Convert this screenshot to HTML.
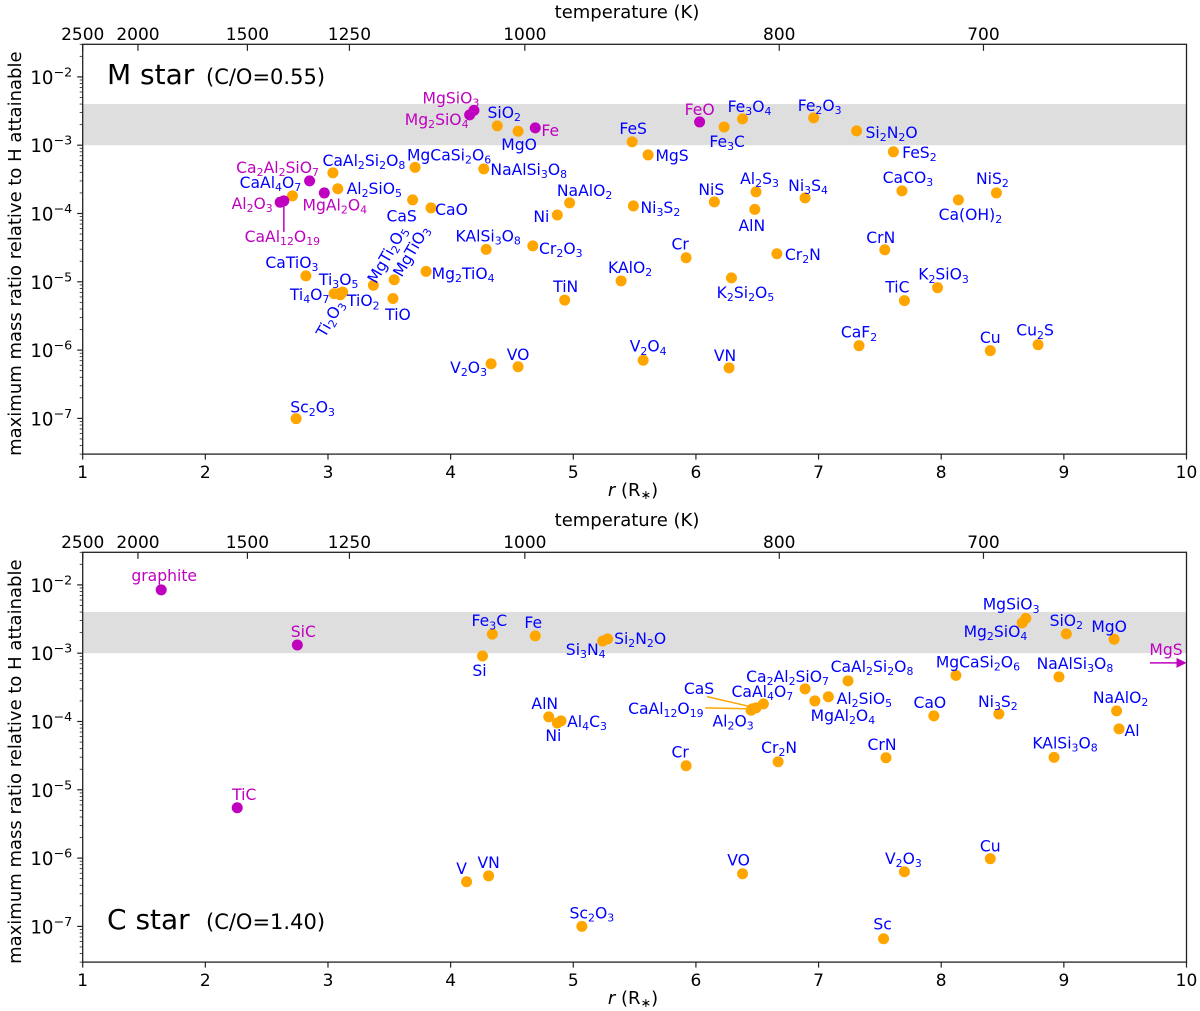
<!DOCTYPE html>
<html lang="en">
<head>
<meta charset="utf-8">
<title>Maximum mass ratio relative to H attainable</title>
<style>
html,body{margin:0;padding:0;background:#fff;width:1200px;height:1011px;overflow:hidden}
svg{display:block}
text{font-family:"DejaVu Sans","Liberation Sans",sans-serif}
</style>
</head>
<body>
<svg id="chart" xmlns="http://www.w3.org/2000/svg" width="1200" height="1011" viewBox="0 0 1200 1011"></svg>
<script>
const xTicks = [1,2,3,4,5,6,7,8,9,10];
const tempTicks = [2500,2000,1500,1250,1000,800,700];
const yTicks = [1e-2,1e-3,1e-4,1e-5,1e-6,1e-7];
const bandRange = [1e-3,4e-3];

const mSpecies = ["SiO2","MgO","FeS","MgS","Fe3O4","Fe3C","Fe2O3","Si2N2O","FeS2","CaAl2Si2O8","MgCaSi2O6","NaAlSi3O8","Al2SiO5","CaAl4O7","CaS","CaO","NaAlO2","Ni","Ni3S2","NiS","Al2S3","AlN","Ni3S4","CaCO3","Ca(OH)2","NiS2","KAlSi3O8","Cr2O3","Cr","CrN","Cr2N","CaTiO3","Ti3O5","Ti4O7","Ti2O3","TiO2","MgTi2O5","MgTiO3","Mg2TiO4","TiO","KAlO2","K2Si2O5","TiN","K2SiO3","TiC","CaF2","Cu","Cu2S","V2O3","VO","V2O4","VN","Sc2O3","MgSiO3","Mg2SiO4","Fe","FeO","Ca2Al2SiO7","MgAl2O4","Al2O3","CaAl12O19"];
const mRadius = [4.38,4.55,5.48,5.61,6.38,6.23,6.96,7.31,7.61,3.04,3.71,4.27,3.08,2.71,3.69,3.84,4.97,4.87,5.49,6.15,6.49,6.48,6.89,7.68,8.14,8.45,4.29,4.67,5.92,7.54,6.66,2.82,3.12,3.05,3.10,3.10,3.37,3.54,3.80,3.53,5.39,6.29,4.93,7.97,7.70,7.33,8.40,8.79,4.33,4.55,5.57,6.27,2.74,4.19,4.155,4.69,6.03,2.85,2.97,2.61,2.64];
const mValue = [1.92e-3,1.6e-3,1.12e-3,7.2e-4,2.43e-3,1.85e-3,2.51e-3,1.62e-3,8e-4,3.94e-4,4.74e-4,4.5e-4,2.3e-4,1.81e-4,1.58e-4,1.21e-4,1.43e-4,9.5e-5,1.29e-4,1.48e-4,2.07e-4,1.15e-4,1.69e-4,2.14e-4,1.58e-4,2e-4,2.98e-5,3.36e-5,2.25e-5,2.94e-5,2.57e-5,1.22e-5,7.06e-6,6.7e-6,6.46e-6,6.8e-6,8.9e-6,1.07e-5,1.42e-5,5.7e-6,1.03e-5,1.14e-5,5.4e-6,8.2e-6,5.3e-6,1.16e-6,9.8e-7,1.2e-6,6.3e-7,5.7e-7,7.1e-7,5.5e-7,9.9e-8,3.23e-3,2.78e-3,1.79e-3,2.19e-3,3e-4,2e-4,1.46e-4,1.53e-4];
const mMagenta = ["MgSiO3","Mg2SiO4","Fe","FeO","Ca2Al2SiO7","MgAl2O4","Al2O3","CaAl12O19"];

const cSpecies = ["Fe3C","Fe","Si","Si3N4","Si2N2O","AlN","Ni","Al4C3","Cr","VO","V","VN","Sc2O3","Sc","V2O3","Cu","Cr2N","CrN","Ca2Al2SiO7","MgAl2O4","Al2SiO5","CaAl2Si2O8","CaAl4O7","CaS","CaAl12O19","Al2O3","MgCaSi2O6","CaO","Ni3S2","NaAlSi3O8","MgSiO3","Mg2SiO4","SiO2","MgO","NaAlO2","Al","KAlSi3O8","graphite","SiC","TiC"];
const cRadius = [4.34,4.69,4.26,5.24,5.28,4.80,4.87,4.90,5.92,6.38,4.13,4.31,5.07,7.53,7.70,8.40,6.67,7.55,6.89,6.97,7.08,7.24,6.55,6.49,6.46,6.45,8.12,7.94,8.47,8.96,8.69,8.66,9.02,9.41,9.43,9.45,8.92,1.64,2.75,2.26];
const cValue = [1.9e-3,1.79e-3,9.1e-4,1.51e-3,1.62e-3,1.17e-4,9.5e-5,1.02e-4,2.25e-5,5.9e-7,4.5e-7,5.5e-7,1e-7,6.6e-8,6.3e-7,9.8e-7,2.57e-5,2.94e-5,3e-4,2e-4,2.3e-4,3.94e-4,1.81e-4,1.58e-4,1.53e-4,1.46e-4,4.74e-4,1.21e-4,1.29e-4,4.5e-4,3.23e-3,2.78e-3,1.92e-3,1.6e-3,1.43e-4,7.8e-5,2.98e-5,8.45e-3,1.32e-3,5.45e-6];
const cMagenta = ["graphite","SiC","TiC"];
const cOffscale = {species:"MgS", value:7.2e-4};

/* label placement relative to each point (layout only, not data) */
const mLabelLayout = {"MgSiO3":[-23,-7],"Mg2SiO4":[-33,10],"Fe":[15,8],"FeO":[0,-7],"Ca2Al2SiO7":[-32,-8],"CaAl4O7":[-22,-8],"Al2O3":[-28,6.5],"CaAl12O19":[-1.5,41],"MgAl2O4":[10.5,17.7],"CaAl2Si2O8":[31,-7],"Al2SiO5":[36.5,5],"MgCaSi2O6":[34,-7],"NaAlSi3O8":[45,6],"CaS":[-11,21.7],"CaO":[20.5,7],"KAlSi3O8":[2,-8],"Cr2O3":[28,8],"CaTiO3":[-14,-8],"Ti3O5":[-4,-7],"Ti4O7":[-24.5,6.3],"TiO2":[23,13],"Ti2O3":[-5.5,26.5,-60],"MgTi2O5":[18.5,-28,-60],"MgTiO3":[21.5,-26,-60],"Mg2TiO4":[37,7.5],"TiO":[5,21.5],"Sc2O3":[16.5,-6],"V2O3":[-22.5,9],"VO":[0,-7],"V2O4":[5,-8.5],"VN":[-4,-7],"CaF2":[0,-8],"Cu":[0,-7.5],"Cu2S":[-3,-9],"TiC":[-7,-8],"K2SiO3":[6,-8],"K2Si2O5":[14,20],"KAlO2":[9,-8],"TiN":[1,-8],"Cr":[-6,-8],"CrN":[-4,-7],"Cr2N":[26,6],"AlN":[-3,21.5],"Al2S3":[3.5,-8],"NiS":[-3,-7],"Ni3S4":[3,-7],"CaCO3":[6,-8],"Ca(OH)2":[12,20],"NiS2":[-4,-9],"NaAlO2":[15,-7],"Ni":[-16,7],"Ni3S2":[27,7],"FeS":[1,-8],"MgS":[24,6],"SiO2":[7,-8],"MgO":[1,19],"Fe3O4":[7,-7],"Fe3C":[3,20],"Fe2O3":[6,-7],"Si2N2O":[35,7],"FeS2":[26,6]};
const cLabelLayout = {"graphite":[3,-9],"SiC":[6,-8],"TiC":[7,-8],"Fe3C":[-3,-8],"Fe":[-2,-8],"Si":[-3,20],"Si3N4":[-17,14],"Si2N2O":[32.5,5],"AlN":[-4,-8],"Ni":[-4,18],"Al4C3":[26,6],"Cr":[-6,-8],"VO":[-4,-8],"V":[-5,-8],"VN":[0,-8],"Sc2O3":[10,-8],"Sc":[-1,-9],"V2O3":[-1,-8],"Cu":[0,-7],"Cr2N":[1,-9],"CrN":[-4,-8],"CaAl4O7":[-1,-7],"CaS":[-57,-14],"CaAl12O19":[-86.5,5],"Al2O3":[-18,16],"Ca2Al2SiO7":[-17.5,-7],"CaAl2Si2O8":[24,-9],"MgAl2O4":[28,20],"Al2SiO5":[36,7],"MgCaSi2O6":[22,-8],"CaO":[-4,-8],"Ni3S2":[-1,-7],"NaAlSi3O8":[16,-8],"MgSiO3":[-14.7,-8.7],"Mg2SiO4":[-26.7,14],"SiO2":[0,-8],"MgO":[-5,-7],"NaAlO2":[4,-8],"Al":[13,7],"KAlSi3O8":[11,-9]};
const mLeaders = [{species:"CaAl12O19",dx:0,dy:31}];
const cLeaders = [{species:"CaS",dx:-49,dy:-11.3},{species:"CaAl12O19",dx:-47,dy:-1}];

const BLUE="#0000ff", ORANGE="#ffa500", MAGENTA="#bf00bf", INK="#222";
const NS="http://www.w3.org/2000/svg";
const svg=document.getElementById("chart");
const L=82.7,R=1186.5;
const X=r=>L+(r-1)*(R-L)/9;
const rOfTemp=t=>Math.pow(2500/t,1/0.6);

function mk(tag,attrs,parent){
  const e=document.createElementNS(NS,tag);
  for(const k in attrs) e.setAttribute(k,attrs[k]);
  parent.appendChild(e);
  return e;
}
function chemText(parent,str,x,y,fill,size,rot){
  const attrs={x:x,y:y,fill:fill,"font-size":size,"text-anchor":"middle"};
  if(rot) attrs.transform="rotate("+rot+" "+x+" "+y+")";
  const t=mk("text",attrs,parent);
  const parts=str.split(/(\d+)/);
  const drop=size*0.2;
  let pending=0;
  parts.forEach((p,i)=>{
    if(!p) return;
    const isSub=i%2===1;
    const a={};
    if(isSub){a["font-size"]=size*0.7;a.dy=drop;pending=-drop;}
    else if(pending){a.dy=pending;pending=0;}
    const s=mk("tspan",a,t);
    s.textContent=p;
  });
  return t;
}

function drawPanel(cfg){
  const top=cfg.top,bottom=top+409.8;
  const Y=v=>top+(Math.log10(3e-2)-Math.log10(v))*409.8/6;
  const g=mk("g",{},svg);
  
  

  const band=mk("rect",{x:L,y:Y(bandRange[1]),width:R-L,height:Y(bandRange[0])-Y(bandRange[1]),fill:"#dedede"},g);
  
  

  /* leader lines */
  cfg.leaders.forEach(ld=>{
    const i=cfg.species.indexOf(ld.species);
    const px=X(cfg.radius[i]),py=Y(cfg.value[i]);
    const col=cfg.magenta.includes(ld.species)?MAGENTA:ORANGE;
    const ln=mk("line",{x1:px,y1:py,x2:px+ld.dx,y2:py+ld.dy,stroke:col,"stroke-width":1.5},g);
    
    
  });

  /* points */
  cfg.species.forEach((s,i)=>{
    if(cfg.magenta.includes(s)) return;
    const c=mk("circle",{cx:X(cfg.radius[i]),cy:Y(cfg.value[i]),r:5.5,fill:ORANGE},g);
    
    
  });
  cfg.species.forEach((s,i)=>{
    if(!cfg.magenta.includes(s)) return;
    const c=mk("circle",{cx:X(cfg.radius[i]),cy:Y(cfg.value[i]),r:5.5,fill:MAGENTA},g);
    
    
  });

  /* labels */
  cfg.species.forEach((s,i)=>{
    const lay=cfg.layout[s]||[0,-8];
    const col=cfg.magenta.includes(s)?MAGENTA:BLUE;
    const t=chemText(g,s,X(cfg.radius[i])+lay[0],Y(cfg.value[i])+lay[1],col,15.6,lay[2]||0);
    
    
  });

  /* off-scale arrow */
  if(cfg.offscale){
    const ay=Y(cfg.offscale.value);
    const arrow=mk("line",{x1:R-36.5,y1:ay,x2:R-9,y2:ay,stroke:MAGENTA,"stroke-width":1.5},g);
    
    
    const head=mk("polygon",{points:(R-10)+","+(ay-5)+" "+R+","+ay+" "+(R-10)+","+(ay+5),fill:MAGENTA},g);
    
    
    const at=chemText(g,cfg.offscale.species,R-20.5,ay-8,MAGENTA,15.6,0);
    
    
  }

  /* y ticks */
  yTicks.forEach(v=>{
    const y=Y(v);
    const tk=mk("line",{x1:L-5.5,x2:L,y1:y,y2:y,stroke:INK,"stroke-width":1.2},g);
    
    
    const lb=mk("text",{x:L-10.5,y:y+7,fill:"#000","font-size":18.2,"text-anchor":"end"},g);
    
    
    const a=mk("tspan",{},lb);
    a.textContent="10";
    const b=mk("tspan",{"font-size":12.7,dy:-7.5},lb);
    b.textContent="\u2212"+Math.round(-Math.log10(v));
  });
  for(let e=-8;e<=-2;e++){
    for(let m=2;m<=9;m++){
      const v=m*Math.pow(10,e);
      if(v<3e-8||v>3e-2) continue;
      const y=Y(v);
      const tk=mk("line",{x1:L-3,x2:L,y1:y,y2:y,stroke:INK,"stroke-width":0.8},g);
      
      
    }
  }

  /* x ticks */
  xTicks.forEach(r=>{
    const x=X(r);
    const tk=mk("line",{x1:x,x2:x,y1:bottom,y2:bottom+5.5,stroke:INK,"stroke-width":1.2},g);
    
    
    const lb=mk("text",{x:x,y:bottom+24,fill:"#000","font-size":17,"text-anchor":"middle"},g);
    
    
    lb.textContent=r;
  });

  /* top temperature ticks */
  tempTicks.forEach(t=>{
    const x=X(rOfTemp(t));
    const tk=mk("line",{x1:x,x2:x,y1:top,y2:top+6.5,stroke:INK,"stroke-width":1.2},g);
    
    
    const lb=mk("text",{x:x,y:top-4.5,fill:"#000","font-size":17,"text-anchor":"middle"},g);
    
    
    lb.textContent=t;
  });

  /* frame */
  const frame=mk("rect",{x:L,y:top,width:R-L,height:409.8,fill:"none",stroke:INK,"stroke-width":1.3},g);
  
  

  /* axis titles */
  const tt=mk("text",{x:627,y:top-26.5,fill:"#000","font-size":18,"text-anchor":"middle"},g);
  
  
  tt.textContent="temperature (K)";

  const xt=mk("text",{x:633,y:bottom+42,fill:"#000","font-size":18,"text-anchor":"middle"},g);
  
  
  const x1=mk("tspan",{"font-style":"italic"},xt);
  x1.textContent="r";
  const x2=mk("tspan",{},xt);
  x2.textContent=" (R";
  const x3=mk("tspan",{"font-size":12.6,dy:3},xt);
  x3.textContent="\u2217";
  const x4=mk("tspan",{dy:-3},xt);
  x4.textContent=")";

  const cy=(top+bottom)/2+4.5;
  const yt=mk("text",{x:21,y:cy,fill:"#000","font-size":18,"text-anchor":"middle",transform:"rotate(-90 21 "+cy+")"},g);
  
  
  yt.textContent="maximum mass ratio relative to H attainable";

  /* panel heading */
  const h=mk("text",{x:107,y:cfg.headY,fill:"#000","font-size":28},g);
  
  
  h.textContent=cfg.title;
  const h2=mk("text",{x:206,y:cfg.headY,fill:"#000","font-size":21},g);
  
  
  h2.textContent=cfg.subtitle;
}

drawPanel({id:"m-star",top:44.3,species:mSpecies,radius:mRadius,value:mValue,magenta:mMagenta,layout:mLabelLayout,leaders:mLeaders,offscale:null,title:"M star",subtitle:"(C/O=0.55)",headY:84});
drawPanel({id:"c-star",top:552.3,species:cSpecies,radius:cRadius,value:cValue,magenta:cMagenta,layout:cLabelLayout,leaders:cLeaders,offscale:cOffscale,title:"C star",subtitle:"(C/O=1.40)",headY:929});
</script>
</body>
</html>
